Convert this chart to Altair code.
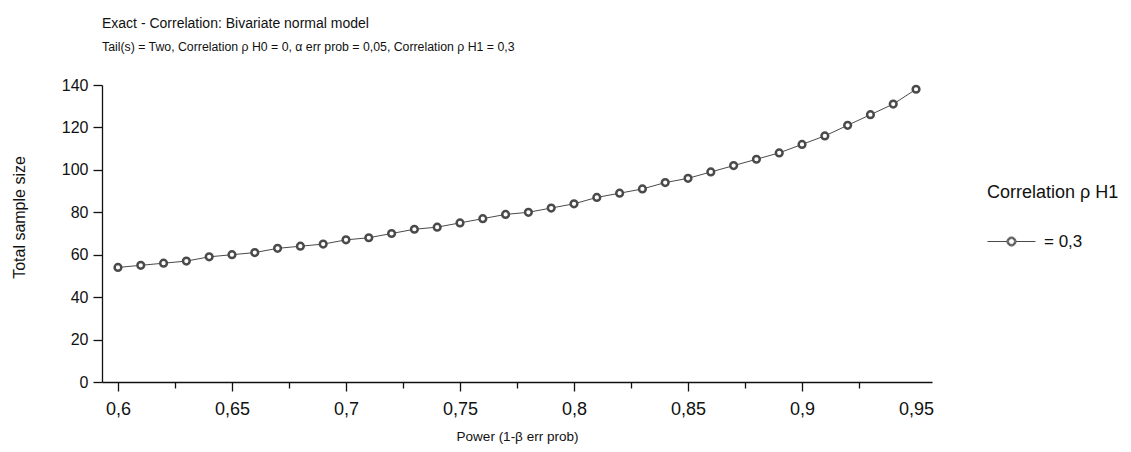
import altair as alt
import pandas as pd

# ---- data ----
power = [0.60, 0.61, 0.62, 0.63, 0.64, 0.65, 0.66, 0.67, 0.68, 0.69,
         0.70, 0.71, 0.72, 0.73, 0.74, 0.75, 0.76, 0.77, 0.78, 0.79,
         0.80, 0.81, 0.82, 0.83, 0.84, 0.85, 0.86, 0.87, 0.88, 0.89,
         0.90, 0.91, 0.92, 0.93, 0.94, 0.95]
sample_size = [54, 55, 56, 57, 59, 60, 61, 63, 64, 65,
               67, 68, 70, 72, 73, 75, 77, 79, 80, 82,
               84, 87, 89, 91, 94, 96, 99, 102, 105, 108,
               112, 116, 121, 126, 131, 138]
series_label = "= 0,3"

x_ticks = [0.6, 0.625, 0.65, 0.675, 0.7, 0.725, 0.75, 0.775, 0.8,
           0.825, 0.85, 0.875, 0.9, 0.925, 0.95]
y_ticks = [0, 10, 20, 30, 40, 50, 60, 70, 80, 90, 100, 110, 120, 130, 140]

title_text = "Exact - Correlation: Bivariate normal model"
subtitle_text = ("Tail(s) = Two, Correlation \u03c1 H0 = 0, \u03b1 err prob = 0,05, "
                 "Correlation \u03c1 H1 = 0,3")
x_title = "Power (1-\u03b2 err prob)"
y_title = "Total sample size"
legend_title = "Correlation \u03c1 H1"

df = pd.DataFrame({"power": power, "n": sample_size,
                   "series": [series_label] * len(power)})

FONT = "Liberation Sans"
DARK = "#4a4a4a"
INK = "#111111"

x_major_test = "abs(datum.value*20 - round(datum.value*20)) < 1e-6"

x_enc = alt.X(
    "power:Q",
    scale=alt.Scale(domain=[0.593, 0.957], nice=False, zero=False),
    axis=alt.Axis(
        values=x_ticks,
        title=x_title,
        grid=False,
        labelExpr=f"{x_major_test} ? replace(format(datum.value, '.2~f'), '.', ',') : ''",
        tickSize={"condition": {"test": f"!({x_major_test})", "value": 6}, "value": 9},
        tickOpacity={"condition": {"test": "datum.value > 0.94", "value": 0}, "value": 1},
        labelPadding=9,
        labelFontSize=18,
        titleFontSize=13.5,
        titlePadding=11,
    ),
)

y_enc = alt.Y(
    "n:Q",
    scale=alt.Scale(domain=[0, 140], nice=False),
    axis=alt.Axis(
        values=y_ticks,
        title=y_title,
        grid=False,
        labelExpr="datum.value % 20 == 0 ? datum.label : ''",
        tickSize={"condition": {"test": "datum.value % 20 != 0", "value": 6}, "value": 9},
        labelPadding=5,
        labelFontSize=16,
        titleFontSize=16,
        titleX=-83,
        titleY=132,
        titleAngle=270,
        titleAlign="center",
        titleBaseline="middle",
    ),
)

r1, r2, r3 = 0.12, 0.155, 0.19
def ring(r):
    return f"M{-r},0A{r},{r} 0 1,1 {r},0A{r},{r} 0 1,1 {-r},0Z"
legend_path = f"M-1,0L{-r3},0M{r3},0L1,0" + ring(r1) + ring(r2) + ring(r3)

color = alt.Color(
    "series:N",
    scale=alt.Scale(domain=[series_label], range=[DARK]),
    legend=alt.Legend(
        title=legend_title,
        orient="none",
        legendX=885,
        legendY=99,
        symbolType=legend_path,
        symbolSize=2304,
        symbolStrokeWidth=1,
        symbolStrokeColor=DARK,
        titlePadding=15,
        labelOffset=8,
    ),
)

line = alt.Chart(df).mark_line(strokeWidth=1, color="#404040").encode(
    x=x_enc, y=y_enc, color=color
)
points = alt.Chart(df).mark_point(
    shape="circle", size=45, filled=True, fill="white",
    stroke=DARK, strokeWidth=2.5, opacity=1
).encode(x="power:Q", y="n:Q")

chart = alt.layer(line, points).properties(
    width=830,
    height=297,
    autosize="none",
    padding={"left": 94, "top": 77, "right": 190, "bottom": 67},
    title=alt.Title(
        text=title_text,
        subtitle=subtitle_text,
        anchor="start",
        frame="group",
        font=FONT,
        fontSize=14,
        fontWeight="normal",
        color=INK,
        subtitleFont=FONT,
        subtitleFontSize=12.3,
        subtitleColor=INK,
        subtitlePadding=10,
        offset=24,
    ),
).configure_view(stroke=None).configure_axis(
    labelFont=FONT,
    labelColor=INK,
    titleFont=FONT,
    titleFontWeight="normal",
    titleColor=INK,
    domainColor=INK,
    domainWidth=1.3,
    tickColor=INK,
    tickWidth=1.3,
).configure_legend(
    titleFont=FONT,
    titleFontSize=18,
    titleFontWeight="normal",
    titleColor=INK,
    labelFont=FONT,
    labelFontSize=17,
    labelColor=INK,
)

chart.save("out.html", embed_options={"renderer": "svg", "actions": False})
